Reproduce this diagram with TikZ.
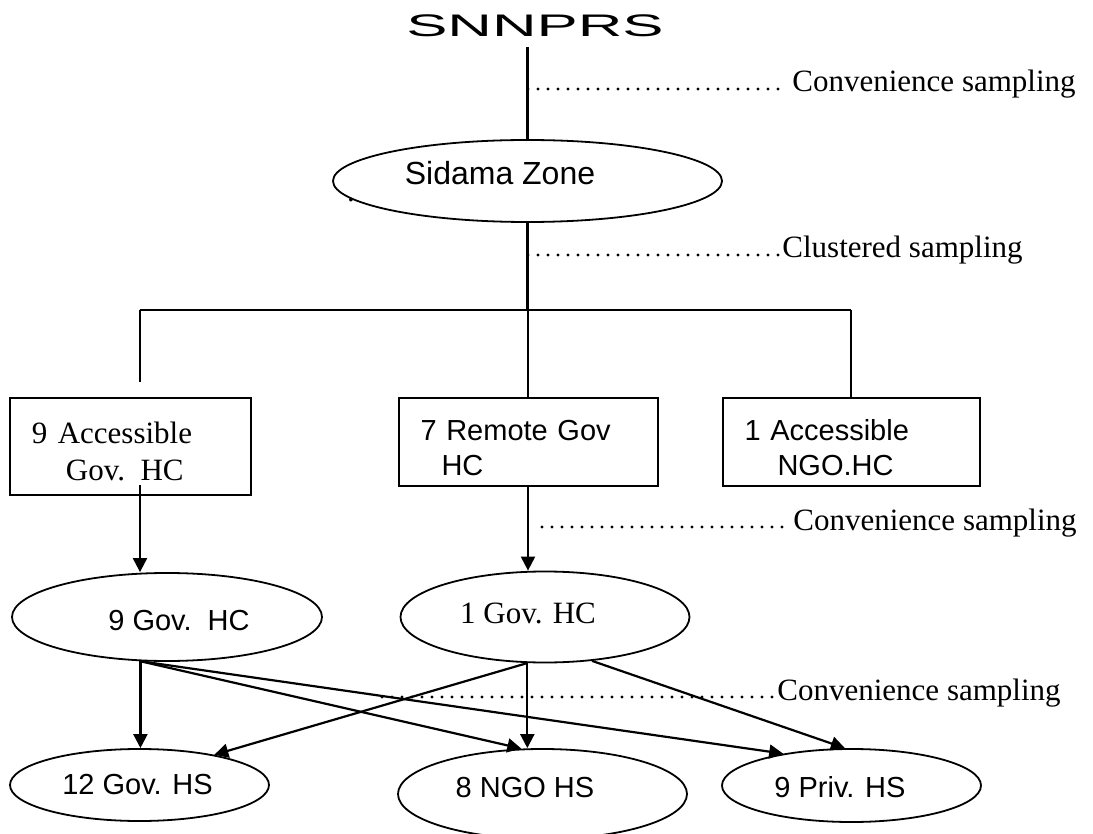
\documentclass[tikz,border=0pt]{standalone}
\usepackage{fontspec}
\setmainfont{Liberation Serif}
\setsansfont{Liberation Sans}
\usetikzlibrary{shapes.geometric,arrows.meta}

\tikzset{
  oval/.style={ellipse, draw, line width=0.9pt, inner sep=0pt},
  hcbox/.style={rectangle, draw, line width=1pt, align=left, inner ysep=0pt, inner xsep=11pt},
  link/.style={line width=1.1pt},
  arrow/.style={line width=1.1pt, -{Triangle[length=7pt,width=7pt]}},
  leader/.style={line width=1.7pt, line cap=round, dash pattern=on 0pt off 5pt},
  sf/.style={font=\sffamily\fontsize{14.5}{17.5}\selectfont},
  rm/.style={font=\rmfamily\fontsize{15.5}{18.5}\selectfont},
  note/.style={rm, inner sep=0pt, anchor=base west}
}

\begin{document}
\begin{tikzpicture}[x=0.5pt, y=-0.5pt]
  \useasboundingbox (0,0) rectangle (1093,834);

  % Nodos
  \node[inner sep=0pt, font=\sffamily\fontsize{15.6}{18}\selectfont] (snnprs) at (535,26) {\scalebox{1.98}[1]{SNNPRS}};
  \node[oval, minimum width=194.5pt, minimum height=41pt,
        label={[sf, font=\sffamily\fontsize{16}{19}\selectfont, xshift=-13.75pt, yshift=4pt]center:Sidama Zone}] (zone) at (527.5,181) {};
  \node[rm, inner sep=0pt, anchor=base] (stray) at (351,202) {.};

  \node[hcbox, rm, text width=98.5pt, minimum height=48.5pt] (box1) at (130.5,446.5)
    {\rule{0pt}{16pt}9 Accessible\\\hspace*{17pt}Gov. HC};
  \node[hcbox, sf, text width=107.5pt, minimum height=44pt] (box2) at (528,442)
    {\rule{0pt}{16.5pt}7 Remote Gov\\\hspace*{10.5pt}HC};
  \node[hcbox, sf, text width=106.5pt, minimum height=44pt] (box3) at (851,442)
    {\rule{0pt}{16pt}1 Accessible\\\hspace*{16.5pt}NGO.HC};

  \node[oval, minimum width=155pt, minimum height=44pt,
        label={[sf, xshift=6pt, yshift=-2pt]center:9 Gov.\ \ HC}] (gov9) at (167,617) {};
  \node[oval, minimum width=144.5pt, minimum height=45.5pt,
        label={[rm, xshift=-8.5pt, yshift=2pt]center:1 Gov. HC}] (gov1) at (545,617) {};

  \node[oval, minimum width=129.5pt, minimum height=36pt,
        label={[sf, xshift=-1pt]center:12 Gov. HS}] (gov12) at (139.5,785) {};
  \node[oval, minimum width=144.5pt, minimum height=45pt,
        label={[sf, xshift=-8.75pt, yshift=3pt]center:8 NGO HS}] (ngo8) at (542.5,794) {};
  \node[oval, minimum width=129.5pt, minimum height=36.5pt,
        label={[sf, xshift=-5.75pt, yshift=-1pt]center:9 Priv. HS}] (priv9) at (851.5,785.5) {};

  \node[note] (conv1) at (792,92) {Convenience sampling};
  \node[note] (clus) at (782,258) {Clustered sampling};
  \node[note] (conv2) at (793,530) {Convenience sampling};
  \node[note] (conv3) at (777,700) {Convenience sampling};

  \coordinate (barL) at (140,310);
  \coordinate (barR) at (851,310);
  \coordinate (dropL) at (140,382);
  \coordinate (b1out) at (140,485);
  \coordinate (lead1) at (528,89);
  \coordinate (lead2) at (528,255);
  \coordinate (lead3) at (542,527);
  \coordinate (lead4) at (382,697);

  \draw[link] ([yshift=-5pt]snnprs.south -| zone.north) -- (zone.north);
  \draw[link] (zone.south) -- (zone.south |- barL);
  \draw[link] (barL) -- (barR);
  \draw[link] (barL) -- (dropL);
  \draw[link] (box2.north |- barL) -- (box2.north);
  \draw[link] (barR) -- (box3.north);

  \draw[leader] (lead1) -- ([xshift=-4pt]lead1 -| conv1.west);
  \draw[leader] (lead2) -- ([xshift=-1pt]lead2 -| clus.west);
  \draw[leader] (lead3) -- ([xshift=-1pt]lead3 -| conv2.west);
  \draw[leader] (lead4) -- ([xshift=-1pt]lead4 -| conv3.west);

  \draw[arrow] (b1out) -- (b1out |- gov9.north);
  \draw[arrow] (box2.south) -- (box2.south |- gov1.north);

  \draw[arrow] (gov9.239) -- (gov9.239 |- gov12.north);
  \draw[arrow] (gov9.239) -- (ngo8.115);
  \draw[arrow] (gov9.239) -- (priv9.155);
  \draw[arrow] (gov1.249) -- (gov12.22);
  \draw[arrow] (gov1.249) -- (gov1.249 |- ngo8.north);
  \draw[arrow] (gov1.317) -- (priv9.100);
\end{tikzpicture}
\end{document}
